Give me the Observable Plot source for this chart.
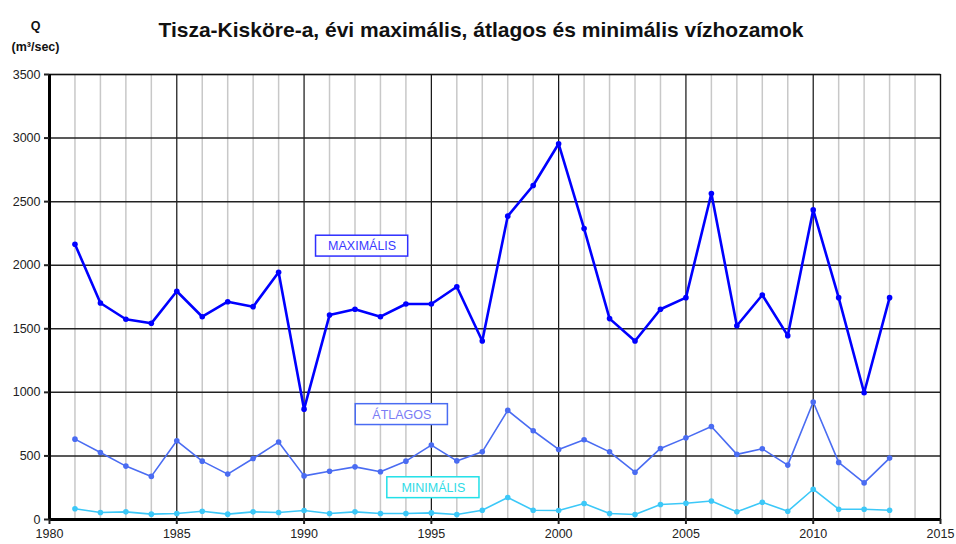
<!DOCTYPE html>
<html><head><meta charset="utf-8">
<script src="https://cdn.jsdelivr.net/npm/d3@7"></script>
<script src="https://cdn.jsdelivr.net/npm/@observablehq/plot@0.6"></script>
<style>body{margin:0;background:#fff} svg{display:block}</style>
</head><body><div id="chart"></div><script>
const years = [1981,1982,1983,1984,1985,1986,1987,1988,1989,1990,1991,1992,1993,1994,1995,1996,1997,1998,1999,2000,2001,2002,2003,2004,2005,2006,2007,2008,2009,2010,2011,2012,2013];
const maxValues = [2165,1703,1575,1543,1795,1595,1713,1674,1945,868,1608,1654,1595,1695,1695,1831,1404,2386,2627,2955,2288,1580,1404,1654,1745,2564,1524,1766,1446,2435,1745,997,1745];
const avgValues = [632,527,420,339,619,459,357,480,609,343,380,414,375,459,585,461,532,858,698,551,627,532,372,559,642,732,512,556,428,924,449,288,483];
const minValues = [84,55,60,42,47,65,42,60,55,71,47,60,47,47,52,39,73,173,73,71,126,47,39,118,128,146,60,136,65,238,81,81,73];
const xTicks = [1980,1985,1990,1995,2000,2005,2010,2015];
const yTicks = [0,500,1000,1500,2000,2500,3000,3500];
const minorYears = [1981,1982,1983,1984,1986,1987,1988,1989,1991,1992,1993,1994,1996,1997,1998,1999,2001,2002,2003,2004,2006,2007,2008,2009,2011,2012,2013,2014];
const seriesNames = ["MAXIMÁLIS","ÁTLAGOS","MINIMÁLIS"];
const seriesColors = ["#0000ff","#4a6cf2","#3cc8f8"];
const labelTextColors = ["#3a3aff","#7a7cf5","#2edbe6"];
const labelBorderColors = ["#2f2fff","#4a6cf2","#22e0e8"];
const labelYears = [1992.28, 1993.84, 1995.08];
const labelValues = [2150, 825, 250];
const titleText = "Tisza-Kisköre-a, évi maximális, átlagos és minimális vízhozamok";

const seriesValues = [maxValues, avgValues, minValues];
const rows = seriesNames.flatMap((s, i) => years.map((y, j) => ({series: s, year: y, value: seriesValues[i][j]})));
const labels = seriesNames.map((s, i) => ({series: s, x: labelYears[i], y: labelValues[i], text: labelTextColors[i], border: labelBorderColors[i]}));
const halfW = 1.81, halfH = 82;

const font = "'Liberation Sans', Arial, sans-serif";
const chart = Plot.plot({
  width: 956, height: 544,
  marginLeft: 49, marginRight: 16, marginTop: 74, marginBottom: 25,
  style: {fontFamily: font, fontSize: "12px", background: "#fff", color: "#222"},
  x: {domain: [1980, 2015]},
  y: {domain: [0, 3500]},
  color: {domain: seriesNames, range: seriesColors},
  marks: [
    Plot.ruleX(minorYears, {stroke: "#c8c8c8", strokeWidth: 1.5}),
    Plot.ruleX(xTicks, {stroke: "#111", strokeWidth: 1.2}),
    Plot.ruleY(yTicks, {stroke: "#222", strokeWidth: 1.5}),
    Plot.frame({stroke: "#111", strokeWidth: 1.2}),
    Plot.ruleX([1980], {stroke: "#000", strokeWidth: 3}),
    Plot.ruleY([0], {stroke: "#000", strokeWidth: 3}),
    Plot.axisX(xTicks, {tickSize: 5, tickPadding: 5, tickFormat: d => String(d), label: null, strokeWidth: 2, fontSize: 12.5, fill: "#222"}),
    Plot.axisY(yTicks, {tickSize: 5, tickPadding: 4, tickFormat: d => String(d), label: null, strokeWidth: 2, fontSize: 12.5, fill: "#222"}),
    Plot.line(rows.filter(d => d.series === "MINIMÁLIS"), {x: "year", y: "value", stroke: "series", strokeWidth: 1.6}),
    Plot.dot(rows.filter(d => d.series === "MINIMÁLIS"), {x: "year", y: "value", fill: "series", r: 2.8}),
    Plot.line(rows.filter(d => d.series === "ÁTLAGOS"), {x: "year", y: "value", stroke: "series", strokeWidth: 1.6}),
    Plot.dot(rows.filter(d => d.series === "ÁTLAGOS"), {x: "year", y: "value", fill: "series", r: 2.8}),
    Plot.line(rows.filter(d => d.series === "MAXIMÁLIS"), {x: "year", y: "value", stroke: "series", strokeWidth: 2.6}),
    Plot.dot(rows.filter(d => d.series === "MAXIMÁLIS"), {x: "year", y: "value", fill: "series", r: 2.8}),
    Plot.rect(labels, {x1: d => d.x - halfW, x2: d => d.x + halfW, y1: d => d.y - halfH, y2: d => d.y + halfH, fill: "#fff", stroke: d => d.border, strokeWidth: 1.5}),
    Plot.text(labels, {x: "x", y: "y", text: "series", fill: d => d.text, fontSize: 12.5}),
    Plot.text([titleText], {frameAnchor: "top", dx: -14, dy: -52, fontSize: 21, fontWeight: "bold", fill: "#111"}),
    Plot.text(["Q"], {frameAnchor: "top-left", textAnchor: "middle", dx: -14, dy: -53, fontSize: 12.5, fontWeight: "bold", fill: "#111"}),
    Plot.text(["(m³/sec)"], {frameAnchor: "top-left", textAnchor: "middle", dx: -14, dy: -32, fontSize: 12.5, fontWeight: "bold", fill: "#111"})
  ]
});
document.getElementById("chart").append(chart);
</script></body></html>
